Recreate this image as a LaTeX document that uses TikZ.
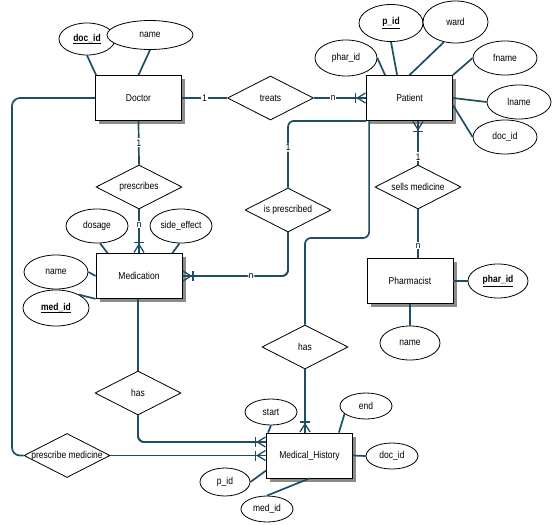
\documentclass[tikz,border=0pt]{standalone}
\usepackage{fontspec}
\setmainfont{Liberation Sans}[FakeStretch=0.85]
\usetikzlibrary{arrows.meta,shapes.geometric}
\definecolor{ln}{HTML}{1F4E64}
\definecolor{shd}{HTML}{8C8C8C}
\tikzset{
  every node/.style={font=\fontsize{10}{12}\selectfont},
  ent/.style={draw=black, line width=0.8pt, fill=white, minimum width=86pt, minimum height=45pt, inner sep=0pt},
  rel/.style={diamond, draw=black, line width=0.8pt, fill=white, minimum width=86pt, minimum height=44pt, inner sep=0pt},
  attr/.style={ellipse, draw=black, line width=0.8pt, fill=white, inner sep=0pt},
  conn/.style={draw=ln, line width=1.7pt},
  al/.style={draw=ln, line width=1.7pt},
  lbl/.style={fill=white, inner sep=1pt, font=\fontsize{9.5}{10}\selectfont},
  shadowbox/.style={fill=shd, draw=none},
  cf/.style={-{Bar[width=10pt,line width=1.3pt,sep=0pt]Straight Barb[reversed,length=8pt,width=10pt,line width=1.3pt]},
    postaction={draw=ln, line width=1.7pt, arrows=-}},
}
\begin{document}
\begin{tikzpicture}[x=1pt,y=-1pt]
\useasboundingbox (0,0) rectangle (558,525);
% entity shadows
\fill[shadowbox] (99,79) rectangle (185,124);
\fill[shadowbox] (370,79) rectangle (456,124);
\fill[shadowbox] (99.5,257) rectangle (185.5,302);
\fill[shadowbox] (370.5,262) rectangle (456.5,307);
\fill[shadowbox] (270,436.5) rectangle (356,481.5);
% entities
\node[ent] (doc) at (138.5,98) {Doctor};
\node[ent] (pat) at (409.5,98) {Patient};
\node[ent] (med) at (139,276) {Medication};
\node[ent] (ph) at (410,281) {Pharmacist};
\node[ent] (mh) at (309.5,455.5) {Medical\_History};
% relationships
\node[rel, label={center:treats}] (tr) at (270.5,98) {};
\node[rel, label={center:prescribes}] (pr) at (139,187) {};
\node[rel, label={center:is prescribed}] (ip) at (288,210) {};
\node[rel, label={center:sells medicine}] (sm) at (418,187) {};
\node[rel, label={center:has}] (has2) at (305,347) {};
\node[rel, label={center:has}] (has1) at (138,393) {};
\node[rel, label={center:prescribe medicine}] (pm) at (67,455.5) {};
% doctor attributes
\node[attr, minimum width=56pt, minimum height=32pt, label={center:\textbf{\underline{doc\_id}}}] (did) at (87,39) {};
\node[attr, minimum width=86pt, minimum height=29pt, label={center:name}] (dn) at (150,35) {};
% patient attributes
\node[attr, minimum width=64pt, minimum height=37pt, label={center:\textbf{\underline{p\_id}}}] (pid) at (391,23) {};
\node[attr, minimum width=65pt, minimum height=42pt, label={center:ward}] (ward) at (455.5,22) {};
\node[attr, minimum width=62pt, minimum height=36pt, label={center:phar\_id}] (pha) at (346,58) {};
\node[attr, minimum width=64pt, minimum height=34pt, label={center:fname}] (fn) at (505,58) {};
\node[attr, minimum width=64pt, minimum height=34pt, label={center:lname}] (lnm) at (519,102) {};
\node[attr, minimum width=64pt, minimum height=34pt, label={center:doc\_id}] (pdid) at (505,137) {};
% medication attributes
\node[attr, minimum width=64pt, minimum height=34pt, label={center:name}] (mn) at (56,272) {};
\node[attr, minimum width=66pt, minimum height=36pt, label={center:\textbf{\underline{med\_id}}}] (mid) at (56,308) {};
\node[attr, minimum width=62pt, minimum height=34pt, label={center:dosage}] (dos) at (97,226) {};
\node[attr, minimum width=62pt, minimum height=34pt, label={center:side\_effect}] (se) at (181,226) {};
% pharmacist attributes
\node[attr, minimum width=60pt, minimum height=34pt, label={center:\textbf{\underline{phar\_id}}}] (pph) at (498,281) {};
\node[attr, minimum width=60pt, minimum height=34pt, label={center:name}] (phn) at (410,343) {};
% medical history attributes
\node[attr, minimum width=52pt, minimum height=26pt, label={center:start}] (st) at (271,412) {};
\node[attr, minimum width=52pt, minimum height=26pt, label={center:end}] (en) at (366,406) {};
\node[attr, minimum width=52pt, minimum height=26pt, label={center:doc\_id}] (mdid) at (392,456) {};
\node[attr, minimum width=50pt, minimum height=28pt, label={center:p\_id}] (mpid) at (225,482) {};
\node[attr, minimum width=52pt, minimum height=26pt, label={center:med\_id}] (mmid) at (267,509) {};
% attribute lines
\draw[al] (did.south) -- ([xshift=1pt]doc.north west);
\draw[al] (dn.south) -- (doc.north);
\draw[al] (pha.east) -- ([xshift=19pt]pat.north west);
\draw[al] (pid.south) -- ([xshift=31pt]pat.north west);
\draw[al] (ward.-120) -- (pat.north);
\draw[al] (fn.west) -- (pat.north east);
\draw[al] (lnm.west) -- (pat.east);
\draw[al] (pdid.west) -- ([yshift=-7pt]pat.east);
\draw[al] (mn.east) -- (med.west);
\draw[al] (mid.30) -- (med.south west);
\draw[al] (dos.-80) -- ([xshift=12pt]med.north west);
\draw[al] (se.-95) -- ([xshift=-10pt]med.north east);
\draw[al] (pph.west) -- (ph.east);
\draw[al] (phn.north) -- (ph.south);
\draw[al] (st.south) -- ([xshift=2pt]mh.north west);
\draw[al] (en.200) -- ([xshift=-14pt]mh.north east);
\draw[al] (mdid.west) -- (mh.east);
\draw[al] (mpid.east) -- ([yshift=-15pt]mh.west);
\draw[al] (mmid.north) -- (mh.south);
% relationship connectors
\draw[conn] (doc.east) -- node[lbl]{1} (tr.west);
\draw[conn, cf] (tr.east) -- node[lbl, pos=0.37]{n} (pat.west);
\draw[conn, cf] (sm.north) -- node[lbl, pos=0.18]{1} (pat.south -| sm.north);
\draw[conn] (sm.south) -- node[lbl, pos=0.75]{n} (ph.north -| sm.south);
\draw[conn] (doc.south) -- node[lbl]{1} (pr.north);
\draw[conn, cf] (pr.south) -- node[lbl, pos=0.35]{n} (med.north -| pr.south);
\draw[conn, rounded corners=6pt] (pat.south west) -- (ip.north |- pat.south west) -- node[lbl, pos=0.4]{1} (ip.north);
\draw[conn, cf, rounded corners=6pt] (ip.south) -- (ip.south |- med.east) -- node[lbl, pos=0.35]{n} (med.east);
\draw[conn, rounded corners=6pt] ([xshift=3pt]pat.south west) -- ([xshift=3pt]pat.south west |- 0,238) -- (has2.north |- 0,238) -- (has2.north);
\draw[conn, cf] (has2.south) -- (mh.north -| has2.south);
\draw[conn] (med.south -| has1.north) -- (has1.north);
\draw[conn, cf, rounded corners=6pt] (has1.south) -- (has1.south |- 0,442) -- (mh.west |- 0,442);
\draw[conn, rounded corners=8pt] (doc.west) -- (12,98) -- (12,455.5) -- (pm.west);
\draw[conn, cf] (pm.east) -- (mh.west);
\end{tikzpicture}
\end{document}
